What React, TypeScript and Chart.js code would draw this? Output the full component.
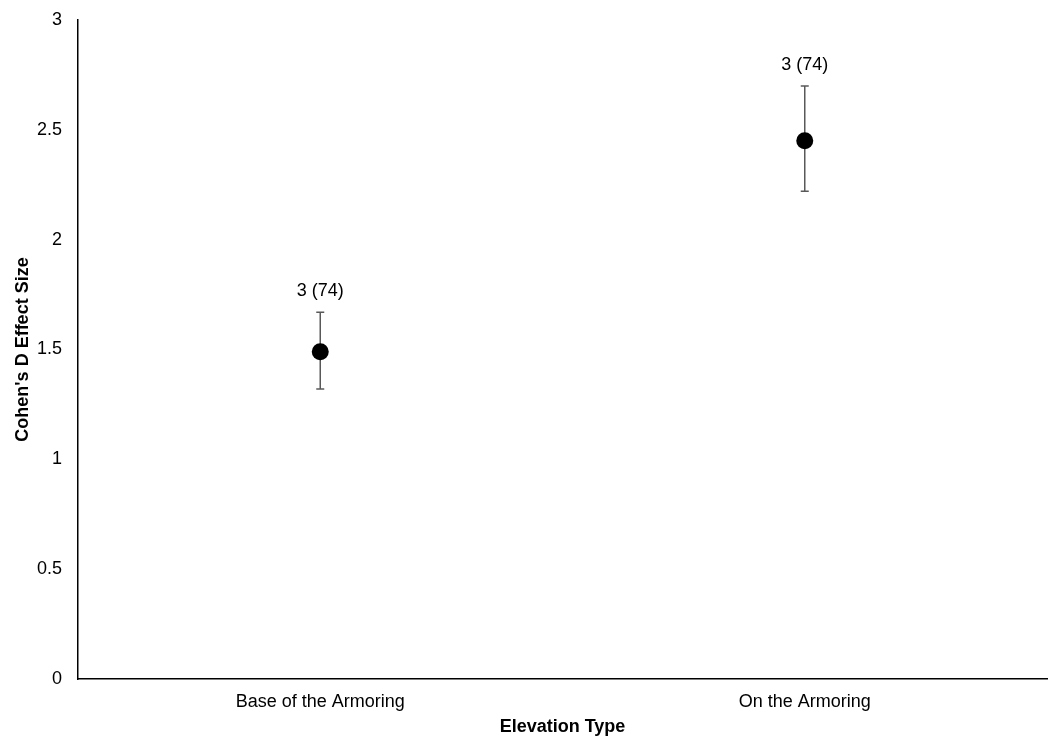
import React, { useEffect, useRef } from "react";
import { Chart, registerables } from "chart.js";

Chart.register(...registerables);

const categories = ["Base of the Armoring", "On the Armoring"];
const effectSizes = [1.49, 2.45];
const errorUpper = [1.67, 2.7];
const errorLower = [1.32, 2.22];
const pointLabels = ["3 (74)", "3 (74)"];
const yTickValues = [0, 0.5, 1, 1.5, 2, 2.5, 3];

const FONT = "'Liberation Sans', Arial, sans-serif";

const errorBarPlugin = {
  id: "errorBars",
  beforeDatasetsDraw(chart: any) {
    const { ctx } = chart;
    const x = chart.scales.x;
    const y = chart.scales.y;
    ctx.save();
    ctx.strokeStyle = "#595959";
    ctx.lineWidth = 1.5;
    categories.forEach((_, i) => {
      const px = x.getPixelForValue(i);
      const top = y.getPixelForValue(errorUpper[i]);
      const bot = y.getPixelForValue(errorLower[i]);
      ctx.beginPath();
      ctx.moveTo(px, top);
      ctx.lineTo(px, bot);
      ctx.moveTo(px - 4, top);
      ctx.lineTo(px + 4, top);
      ctx.moveTo(px - 4, bot);
      ctx.lineTo(px + 4, bot);
      ctx.stroke();
    });
    ctx.restore();
  },
  afterDatasetsDraw(chart: any) {
    const { ctx } = chart;
    const x = chart.scales.x;
    const y = chart.scales.y;
    ctx.save();
    ctx.fillStyle = "#000";
    ctx.font = `18px ${FONT}`;
    ctx.textAlign = "center";
    ctx.textBaseline = "middle";
    categories.forEach((_, i) => {
      const px = x.getPixelForValue(i);
      const top = y.getPixelForValue(errorUpper[i]);
      ctx.fillText(pointLabels[i], px, top - 21);
    });
    ctx.restore();
  },
};

export default function App() {
  const canvasRef = useRef<HTMLCanvasElement | null>(null);

  useEffect(() => {
    if (!canvasRef.current) return;
    const chart = new Chart(canvasRef.current, {
      type: "line",
      data: {
        labels: categories,
        datasets: [
          {
            data: effectSizes,
            showLine: false,
            pointRadius: 8.5,
            pointHoverRadius: 8.5,
            pointBackgroundColor: "#000",
            pointBorderColor: "#000",
            pointBorderWidth: 0,
          },
        ],
      },
      options: {
        animation: false,
        responsive: true,
        maintainAspectRatio: false,
        layout: { autoPadding: false, padding: { left: 0, right: 6, top: 20, bottom: 0 } },
        plugins: {
          legend: { display: false },
          tooltip: { enabled: false },
        },
        scales: {
          x: {
            type: "category",
            offset: true,
            grid: { display: false, drawTicks: false },
            border: { display: true, color: "#000", width: 1.5 },
            ticks: {
              color: "#000",
              font: { family: FONT, size: 18 },
              padding: 12,
              maxRotation: 0,
            },
            title: {
              display: true,
              text: "Elevation Type",
              color: "#000",
              font: { family: FONT, size: 18, weight: "bold" },
              padding: { top: 0, bottom: 0 },
            },
            afterFit(scale: any) {
              scale.height = 59;
              scale.paddingLeft = 0;
              scale.paddingRight = 0;
            },
          },
          y: {
            min: 0,
            max: 3,
            grid: { display: false, drawTicks: false },
            border: { display: true, color: "#000", width: 1.5 },
            afterBuildTicks(scale: any) {
              scale.ticks = yTickValues.map((v) => ({ value: v }));
            },
            ticks: {
              color: "#000",
              font: { family: FONT, size: 18 },
              padding: 16,
              callback: (v: any) => String(v),
            },
            title: {
              display: true,
              text: "Cohen's D Effect Size",
              color: "#000",
              font: { family: FONT, size: 18, weight: "bold" },
              padding: { top: 12, bottom: 0 },
            },
            afterFit(scale: any) {
              scale.width = 78;
              scale.paddingTop = 0;
              scale.paddingBottom = 0;
            },
          },
        },
      },
      plugins: [errorBarPlugin],
    });
    return () => chart.destroy();
  }, []);

  return (
    <div
      style={{
        position: "absolute",
        left: 0,
        top: 0,
        width: 1053,
        height: 738,
        background: "#fff",
      }}
    >
      <canvas ref={canvasRef} />
    </div>
  );
}
